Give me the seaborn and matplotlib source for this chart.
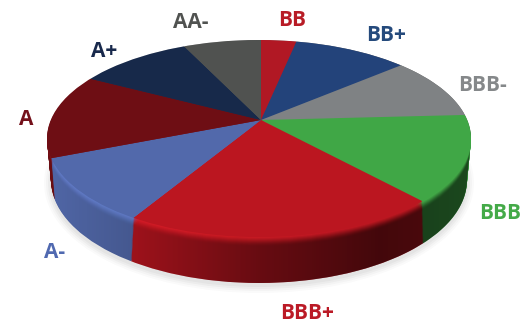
import matplotlib
matplotlib.use("Agg")
import matplotlib.pyplot as plt
import numpy as np
import seaborn as sns
from matplotlib.patches import Ellipse, PathPatch
from matplotlib.path import Path

# ratings, clockwise from 12 o'clock
ratings = ["BB", "BB+", "BBB-", "BBB", "BBB+", "A-", "A", "A+", "AA-"]
shares = [3.3, 10.6, 10.3, 14.0, 20.6, 10.4, 13.6, 10.2, 7.2]
face_colors = ["#b11824", "#23437a", "#7f8284", "#40a746", "#bb1620",
               "#5269ab", "#6e0e14", "#17294a", "#505250"]
label_colors = ["#b81c26", "#254a7c", "#85888a", "#44aa48", "#bb1a26",
                "#5069b0", "#74101a", "#18294c", "#505250"]

# layout in pixels of the 523x323 picture
W, H = 523, 323
SQUASH = 0.465
APEX = (261, 120)
CX = 259
# top and bottom ellipse of the disc, the bottom one is a bit narrower (perspective)
TOP = {"cy": 138.5, "a": 212, "b": 98.5}
BOT = {"cy": 180.0, "a": 208, "b": 103.0}
LAYERS = 46
label_pos = [(292, 18), (386, 33), (483, 83), (500, 211), (307, 311),
             (55, 250), (26, 117), (104, 49), (191, 20)]


def yd(py):
    # pixel row to data y, the pie is squashed by the y limits
    return (H - py) / SQUASH


def ell_at(s):
    return {k: TOP[k] + (BOT[k] - TOP[k]) * s for k in TOP}


sns.set_theme(style="white")
plt.rcParams["font.family"] = ["Open Sans", "DejaVu Sans"]

fig = plt.figure(figsize=(W / 100, H / 100), dpi=100)
ax = fig.add_axes([0, 0, 1, 1])


def draw_layer(s, colors, zorder):
    e = ell_at(s)
    clip = Ellipse((CX, yd(e["cy"])), 2 * e["a"], 2 * e["b"] / SQUASH,
                   transform=ax.transData)
    wedges, _ = ax.pie(shares, colors=colors, radius=700, startangle=90,
                       counterclock=False,
                       center=(APEX[0], yd(APEX[1] + (e["cy"] - TOP["cy"]))),
                       wedgeprops={"linewidth": 0, "zorder": zorder})
    for w in wedges:
        w.set_clip_on(True)
        w.set_clip_path(clip)


# soft shadow under the disc
for grow, alpha in zip([7, 5, 3, 1], [0.02, 0.025, 0.03, 0.03]):
    ax.add_patch(Ellipse((CX, yd(BOT["cy"] + 3)), 2 * (BOT["a"] + grow),
                         2 * (BOT["b"] + grow) / SQUASH, color="black", alpha=alpha,
                         linewidth=0, zorder=1))

# rim, stacked from the bottom up
base = np.array(sns.color_palette(face_colors))
for d in range(LAYERS, 0, -1):
    draw_layer(d / LAYERS, [tuple(c) for c in base * 0.97], 2)

# horizontal shading of the rim, dark towards the right
t = np.linspace(0, np.pi, 120)
upper = np.c_[CX - TOP["a"] * np.cos(t), yd(TOP["cy"] - TOP["b"] * np.sin(t))]
lower = np.c_[CX + BOT["a"] * np.cos(t), yd(BOT["cy"] + BOT["b"] * np.sin(t))]
rim_path = Path(np.vstack([upper, lower, upper[:1]]))
rim_patch = PathPatch(rim_path, transform=ax.transData)

xs = np.linspace(0, 1, 256)
shade = np.zeros((1, 256, 4))
shade[0, :, 3] = np.interp(xs, [0, 0.22, 0.5, 0.785, 1], [0.0, 0.15, 0.43, 0.63, 0.56])
img = ax.imshow(shade, extent=(CX - TOP["a"], CX + TOP["a"], yd(H), yd(0)),
                aspect="auto", zorder=3, interpolation="bilinear")
img.set_clip_path(rim_patch)

# bevel: brighter face colour fading out just under the top edge
bright = np.clip(base * 1.2 + 0.02, 0, 1)
for d in range(9, 0, -1):
    a = 0.28 * (1 - d / 10)
    draw_layer(d / LAYERS, [(c[0], c[1], c[2], a) for c in bright], 3.5)

# top face
draw_layer(0, face_colors, 4)

ax.set_aspect("auto")
ax.set_xlim(0, W)
ax.set_ylim(yd(H), yd(0))
ax.axis("off")

for name, col, (px, py) in zip(ratings, label_colors, label_pos):
    ax.text(px, yd(py), name, color=col, fontsize=15, fontweight="bold",
            ha="center", va="center_baseline", zorder=5)

fig.savefig("out.png", dpi=100)
